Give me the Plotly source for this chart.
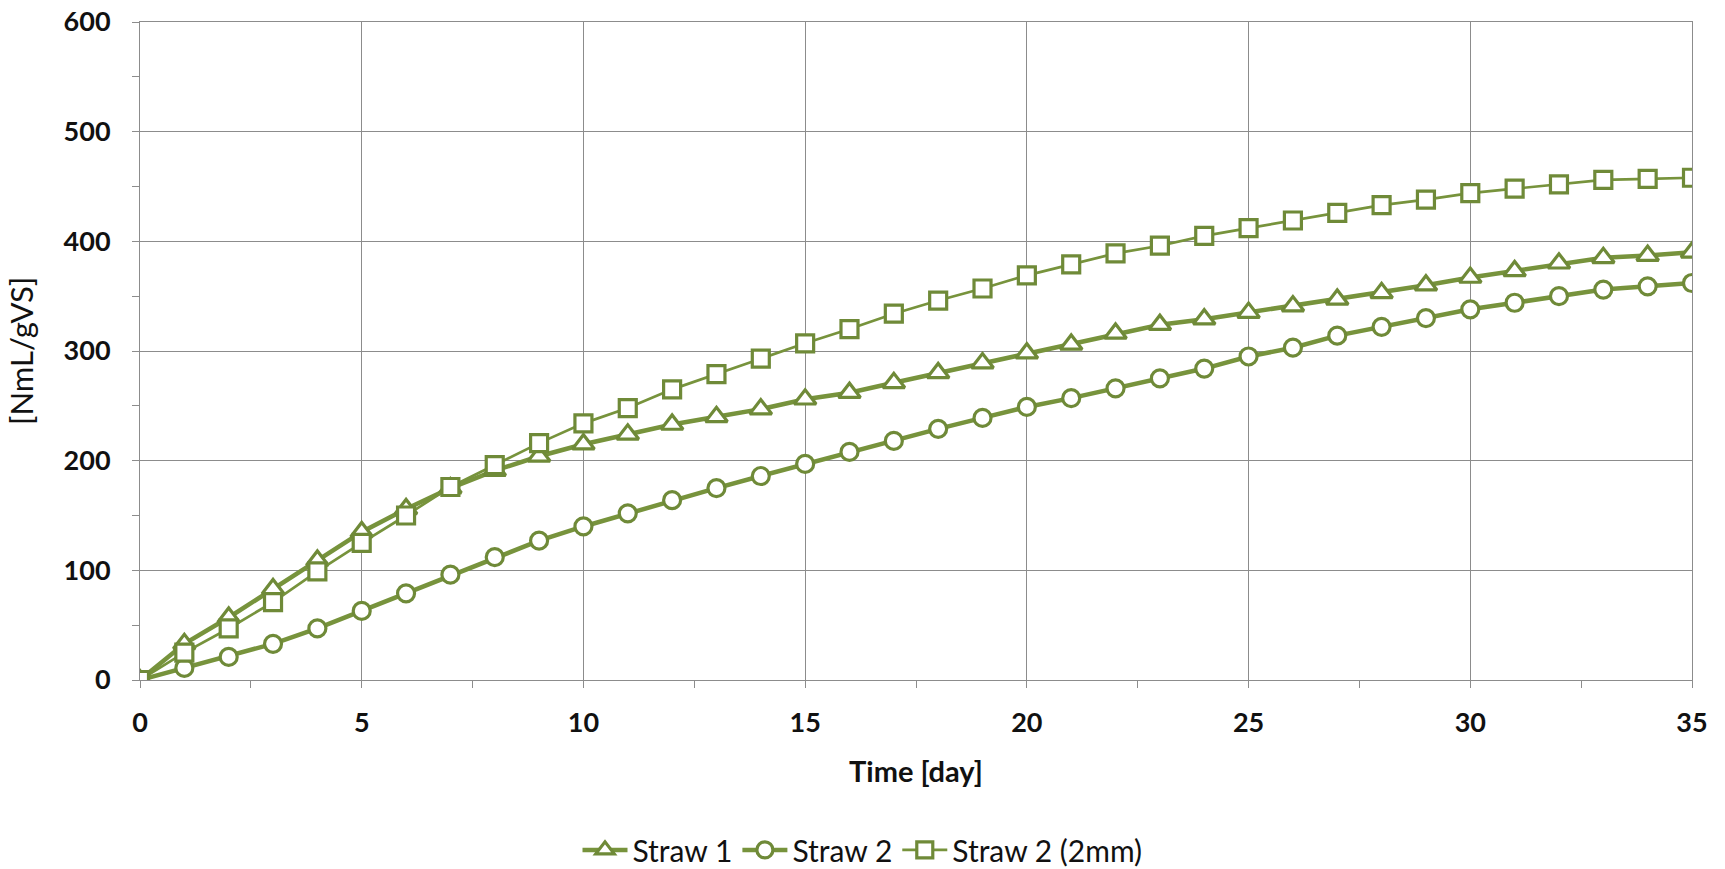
import plotly.graph_objects as go

days = list(range(0, 36))

straw1 = [0, 33, 57, 83, 109, 135, 156, 175, 191, 204, 215,
          224, 233, 240, 247, 256, 262, 271, 280, 289, 298,
          306, 316, 324, 329, 335, 341, 347, 353, 360, 367,
          373, 380, 385, 387, 390]

straw2 = [0, 11, 21, 33, 47, 63, 79, 96, 112, 127, 140,
          152, 164, 175, 186, 197, 208, 218, 229, 239, 249,
          257, 266, 275, 284, 295, 303, 314, 322, 330, 338,
          344, 350, 356, 359, 362]

straw2_2mm = [0, 25, 47, 71, 99, 125, 150, 176, 196, 216, 234,
              248, 265, 279, 293, 307, 320, 334, 346, 357, 369,
              379, 389, 396, 405, 412, 419, 426, 433, 438, 444,
              448, 452, 456, 457, 458]

series_names = ["Straw 1", "Straw 2", "Straw 2 (2mm)"]

x_title = "Time [day]"
y_title = "[NmL/gVS]"

GREEN = "#77933C"
MARK = "#6F8A38"
GRID = "#8C8C8C"
FONT = "Lato"
TXT = "#111111"

fig = go.Figure()

styles = [
    (straw1, "triangle-up", 19, 4.5),
    (straw2, "circle", 17, 4.5),
    (straw2_2mm, "square", 17, 2.7),
]

for name, (vals, sym, size, lw) in zip(series_names, styles):
    fig.add_trace(go.Scatter(
        x=days, y=vals, name=name, mode="lines+markers",
        line=dict(color=GREEN, width=lw),
        marker=dict(symbol=sym, size=size, color="white",
                    line=dict(color=MARK, width=3.2)),
    ))

fig.update_layout(
    width=1725, height=869,
    margin=dict(l=140, r=33, t=22, b=189),
    paper_bgcolor="white", plot_bgcolor="white",
    font=dict(family=FONT, size=26, color=TXT),
    showlegend=True,
    legend=dict(
        orientation="h", xref="container", yref="container",
        x=0.5, xanchor="center", y=0.022, yanchor="middle",
        font=dict(family=FONT, size=30, color=TXT),
        itemwidth=45, tracegroupgap=0, traceorder="normal",
    ),
)

fig.update_xaxes(
    range=[0, 35], dtick=5, tick0=0, automargin=False,
    showgrid=True, gridcolor=GRID, gridwidth=1,
    showline=True, linecolor=GRID, linewidth=1, mirror=True,
    ticks="outside", ticklen=7, tickcolor=GRID,
    minor=dict(dtick=2.5, ticks="outside", ticklen=7, tickcolor=GRID, showgrid=False),
    tickfont=dict(family=FONT, size=27, color=TXT, weight="bold"),
    ticklabelstandoff=12,
    zeroline=False,
    title=dict(text=x_title, standoff=24,
               font=dict(family=FONT, size=29, color=TXT, weight="bold")),
)

fig.update_yaxes(
    range=[0, 600], dtick=100, tick0=0, automargin=False,
    showgrid=True, gridcolor=GRID, gridwidth=1,
    showline=True, linecolor=GRID, linewidth=1, mirror=True,
    ticks="outside", ticklen=7, tickcolor=GRID,
    minor=dict(dtick=50, ticks="outside", ticklen=7, tickcolor=GRID, showgrid=False),
    tickfont=dict(family=FONT, size=27, color=TXT, weight="bold"),
    ticklabelstandoff=16,
    zeroline=False,
    title=dict(text=y_title, standoff=20,
               font=dict(family=FONT, size=31, color=TXT)),
)

fig.write_html("out.html")
